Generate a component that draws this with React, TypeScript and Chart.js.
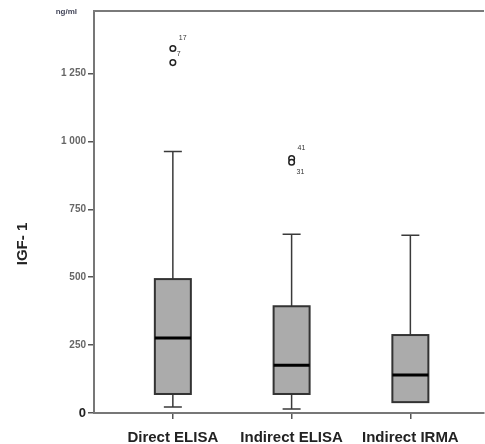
import React, { useEffect, useRef } from "react";
import { Chart, registerables } from "chart.js";
Chart.register(...registerables);

const categories = ["Direct ELISA", "Indirect ELISA", "Indirect IRMA"];
const whiskerLow = [22, 15, 40];
const q1 = [70, 70, 40];
const median = [276, 176, 140];
const q3 = [493, 393, 287];
const whiskerHigh = [963, 658, 654];
const outlierCat = [0, 0, 1, 1];
const outlierVal = [1342, 1290, 937, 923];
const outlierLabel = ["17", "7", "41", "31"];
const yTicks = [0, 250, 500, 750, 1000, 1250];

const FONT = "'Liberation Sans', Arial, sans-serif";

const boxPlugin = {
  id: "boxes",
  beforeDatasetsDraw(chart: any) {
    const { ctx, scales, chartArea } = chart;
    const x = scales.x, y = scales.y;
    ctx.save();
    ctx.strokeStyle = "#7a7a7a";
    ctx.lineWidth = 2;
    ctx.beginPath();
    ctx.moveTo(chartArea.left - 1, chartArea.top);
    ctx.lineTo(chartArea.right, chartArea.top);
    ctx.stroke();
    const halfBox = 18;
    const halfCap = 9;
    categories.forEach((_, i) => {
      const cx = x.getPixelForValue(i);
      const pHi = y.getPixelForValue(whiskerHigh[i]);
      const pLo = y.getPixelForValue(whiskerLow[i]);
      const p1 = y.getPixelForValue(q1[i]);
      const p3 = y.getPixelForValue(q3[i]);
      const pm = y.getPixelForValue(median[i]);
      ctx.strokeStyle = "#3a3a3a";
      ctx.lineWidth = 1.5;
      ctx.beginPath();
      ctx.moveTo(cx, p3);
      ctx.lineTo(cx, pHi);
      ctx.moveTo(cx - halfCap, pHi);
      ctx.lineTo(cx + halfCap, pHi);
      if (whiskerLow[i] < q1[i]) {
        ctx.moveTo(cx, p1);
        ctx.lineTo(cx, pLo);
        ctx.moveTo(cx - halfCap, pLo);
        ctx.lineTo(cx + halfCap, pLo);
      }
      ctx.stroke();
      ctx.fillStyle = "#ababab";
      ctx.fillRect(cx - halfBox, p3, halfBox * 2, p1 - p3);
      ctx.lineWidth = 2;
      ctx.strokeStyle = "#333";
      ctx.strokeRect(cx - halfBox, p3, halfBox * 2, p1 - p3);
      ctx.strokeStyle = "#000";
      ctx.lineWidth = 3;
      ctx.beginPath();
      ctx.moveTo(cx - halfBox, pm);
      ctx.lineTo(cx + halfBox, pm);
      ctx.stroke();
    });
    ctx.restore();
  },
  afterDatasetsDraw(chart: any) {
    const { ctx, scales } = chart;
    const x = scales.x, y = scales.y;
    ctx.save();
    ctx.fillStyle = "#333";
    ctx.font = `7px ${FONT}`;
    ctx.textAlign = "left";
    ctx.textBaseline = "middle";
    const offsets = [[6, -10], [4, -9], [6, -10], [5, 10]];
    outlierVal.forEach((v, k) => {
      const px = x.getPixelForValue(outlierCat[k]);
      const py = y.getPixelForValue(v);
      ctx.fillText(outlierLabel[k], px + offsets[k][0], py + offsets[k][1]);
    });
    ctx.fillStyle = "#44475a";
    ctx.font = `bold 8px ${FONT}`;
    ctx.textAlign = "right";
    ctx.fillText("ng/ml", 77, 12);
    ctx.translate(23, 244);
    ctx.rotate(-Math.PI / 2);
    ctx.textAlign = "center";
    ctx.fillStyle = "#222";
    ctx.font = `bold 15px ${FONT}`;
    ctx.fillText("IGF- 1", 0, 0);
    ctx.restore();
  },
};

export default function App() {
  const ref = useRef<HTMLCanvasElement>(null);
  useEffect(() => {
    const chart = new Chart(ref.current!, {
      type: "scatter",
      data: {
        datasets: [
          {
            data: outlierVal.map((v, k) => ({ x: outlierCat[k], y: v })),
            pointStyle: "circle",
            pointRadius: 2.8,
            pointBorderWidth: 1.5,
            borderColor: "#222",
            backgroundColor: "#fff",
          },
        ],
      },
      options: {
        animation: false,
        responsive: false,
        maintainAspectRatio: false,
        layout: { autoPadding: false, padding: { left: 0, right: 1, top: 11, bottom: 0 } },
        plugins: { legend: { display: false }, tooltip: { enabled: false } },
        scales: {
          x: {
            type: "linear",
            min: -0.664,
            max: 2.62,
            afterFit: (s: any) => { s.height = 31; },
            afterBuildTicks: (s: any) => { s.ticks = categories.map((_, i) => ({ value: i })); },
            ticks: {
              callback: (v: any) => categories[v] ?? "",
              font: { family: FONT, size: 15, weight: "bold" },
              color: "#222",
              padding: 10,
              maxRotation: 0,
              autoSkip: false,
            },
            grid: { drawOnChartArea: false, drawTicks: true, tickLength: 6, color: "#555", lineWidth: 1.5 },
            border: { display: true, color: "#777", width: 2 },
          },
          y: {
            type: "linear",
            min: 0,
            max: 1480,
            afterFit: (s: any) => { s.width = 94; },
            afterBuildTicks: (s: any) => { s.ticks = yTicks.map((v) => ({ value: v })); },
            ticks: {
              callback: (v: any) => (v >= 1000 ? `${Math.floor(v / 1000)} ${String(v % 1000).padStart(3, "0")}` : `${v}`),
              font: (c: any) =>
                c.tick && c.tick.value === 0
                  ? { family: FONT, size: 13, weight: "bold" }
                  : { family: FONT, size: 10, weight: "bold" },
              color: (c: any) => (c.tick && c.tick.value === 0 ? "#222" : "#666"),
              padding: 2,
            },
            grid: { drawOnChartArea: false, drawTicks: true, tickLength: 6, color: "#555", lineWidth: 1.5 },
            border: { display: true, color: "#777", width: 2 },
          },
        },
      },
      plugins: [boxPlugin],
    } as any);
    return () => chart.destroy();
  }, []);
  return (
    <div style={{ position: "fixed", left: 0, top: 0, width: 485, height: 444, background: "#fff" }}>
      <canvas ref={ref} width={485} height={444} style={{ width: 485, height: 444 }} />
    </div>
  );
}
